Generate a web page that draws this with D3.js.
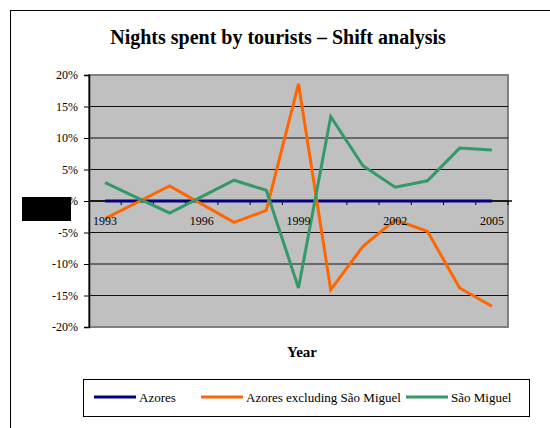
<!DOCTYPE html>
<html lang="en">

<head>
    <meta charset="UTF-8" />
    <title>Nights spent by tourists - Shift analysis</title>
    <script src="https://d3js.org/d3.v7.min.js"></script>
    <style>
        html,
        body {
            margin: 0;
            padding: 0;
            background: #fff;
            overflow: hidden;
        }

        svg {
            display: block;
            font-family: "Liberation Serif", "Times New Roman", serif;
        }
    </style>
</head>

<body>
    <svg width="550" height="428"></svg>

    <script>
        // data
        const years = ["1993", "1994", "1995", "1996", "1997", "1998", "1999",
            "2000", "2001", "2002", "2003", "2004", "2005"];
        const labelledYears = ["1993", "1996", "1999", "2002", "2005"];
        const azores = [0, 0, 0, 0, 0, 0, 0, 0, 0, 0, 0, 0, 0];
        const azoresExclSM = [-2.8, -0.2, 2.4, -0.5, -3.4, -1.5, 18.6, -14.1, -7.2, -3.0, -4.8, -13.8, -16.7];
        const saoMiguel = [2.9, 0.5, -1.9, 0.7, 3.3, 1.7, -13.8, 13.4, 5.6, 2.2, 3.2, 8.4, 8.1];
        const yTicks = [20, 15, 10, 5, 0, -5, -10, -15, -20];

        const series = [
            { name: "Azores", values: azores, color: "#000080" },
            { name: "Azores excluding São Miguel", values: azoresExclSM, color: "#ff6600" },
            { name: "São Miguel", values: saoMiguel, color: "#339966" }
        ];

        const svg = d3.select("svg");

        // outer chart border (runs off the right / bottom edge)
        svg.append("rect")
            .attr("x", 10.5).attr("y", 10.5)
            .attr("width", 620).attr("height", 500)
            .attr("fill", "#fff")
            .attr("stroke", "#000").attr("stroke-width", 1);

        const plot = { left: 89, top: 75, right: 508, bottom: 327 };

        const x = d3.scaleBand()
            .domain(years)
            .range([plot.left, plot.right]);

        const y = d3.scaleLinear()
            .domain([-20, 20])
            .range([plot.bottom, plot.top]);

        // plot background
        svg.append("rect")
            .attr("x", plot.left).attr("y", plot.top)
            .attr("width", plot.right - plot.left)
            .attr("height", plot.bottom - plot.top)
            .attr("fill", "#c0c0c0")
            .attr("stroke", "#808080").attr("stroke-width", 2);

        // horizontal gridlines
        svg.append("g")
            .selectAll("line")
            .data(yTicks.filter(d => d !== 20 && d !== -20))
            .join("line")
            .attr("x1", plot.left).attr("x2", plot.right)
            .attr("y1", d => y(d)).attr("y2", d => y(d))
            .attr("stroke", "#111").attr("stroke-width", 1);

        // y axis
        const yAxis = svg.append("g")
            .attr("transform", `translate(${plot.left},0)`)
            .call(d3.axisLeft(y).tickValues(yTicks).tickSize(5).tickPadding(6)
                .tickFormat(d => d + "%"));
        yAxis.select(".domain").attr("stroke", "#000").attr("stroke-width", 1.5);
        yAxis.selectAll(".tick line").attr("stroke", "#000");
        yAxis.selectAll("text")
            .attr("font-family", "Liberation Serif, serif")
            .attr("font-size", 12).attr("fill", "#000");

        // x axis along 0%, ticks between categories
        const xAxisG = svg.append("g");
        xAxisG.append("line")
            .attr("x1", plot.left).attr("x2", plot.right + 4)
            .attr("y1", y(0)).attr("y2", y(0))
            .attr("stroke", "#000").attr("stroke-width", 1.5);
        xAxisG.selectAll(".xtick")
            .data(years.slice(1).concat(["end"]))
            .join("line")
            .attr("class", "xtick")
            .attr("x1", (d, i) => i < years.length - 1 ? x(d) : plot.right)
            .attr("x2", (d, i) => i < years.length - 1 ? x(d) : plot.right)
            .attr("y1", y(0)).attr("y2", y(0) + 4)
            .attr("stroke", "#000");

        // series lines
        const line = d3.line()
            .x((d, i) => x(years[i]) + x.bandwidth() / 2)
            .y(d => y(d));

        svg.append("g")
            .selectAll("path")
            .data(series)
            .join("path")
            .attr("d", d => line(d.values))
            .attr("fill", "none")
            .attr("stroke", d => d.color)
            .attr("stroke-width", 3)
            .attr("stroke-linejoin", "miter");

        // x tick labels, drawn over the lines
        svg.append("g")
            .selectAll("text")
            .data(labelledYears)
            .join("text")
            .attr("x", d => x(d) + x.bandwidth() / 2)
            .attr("y", y(0) + 24)
            .attr("text-anchor", "middle")
            .attr("font-size", 12)
            .text(d => d);

        // black box over the 0% label, as in the picture
        svg.append("rect")
            .attr("x", 22).attr("y", 197)
            .attr("width", 49).attr("height", 24)
            .attr("fill", "#000");

        // titles
        svg.append("text")
            .attr("x", 278).attr("y", 44)
            .attr("text-anchor", "middle")
            .attr("font-size", 20).attr("font-weight", "bold")
            .text("Nights spent by tourists – Shift analysis");

        svg.append("text")
            .attr("x", 302).attr("y", 357)
            .attr("text-anchor", "middle")
            .attr("font-size", 15).attr("font-weight", "bold")
            .text("Year");

        // legend
        const legend = svg.append("g");
        legend.append("rect")
            .attr("x", 83.5).attr("y", 379.5)
            .attr("width", 446).attr("height", 37)
            .attr("fill", "#fff")
            .attr("stroke", "#000").attr("stroke-width", 1);

        const legendX = [94, 201, 406];
        const items = legend.selectAll("g.item")
            .data(series)
            .join("g")
            .attr("class", "item")
            .attr("transform", (d, i) => `translate(${legendX[i]},397)`);
        items.append("line")
            .attr("x1", 0).attr("x2", 42)
            .attr("stroke", d => d.color).attr("stroke-width", 3);
        items.append("text")
            .attr("x", 45).attr("y", 4.5)
            .attr("font-size", 13)
            .text(d => d.name);
    </script>
</body>

</html>
